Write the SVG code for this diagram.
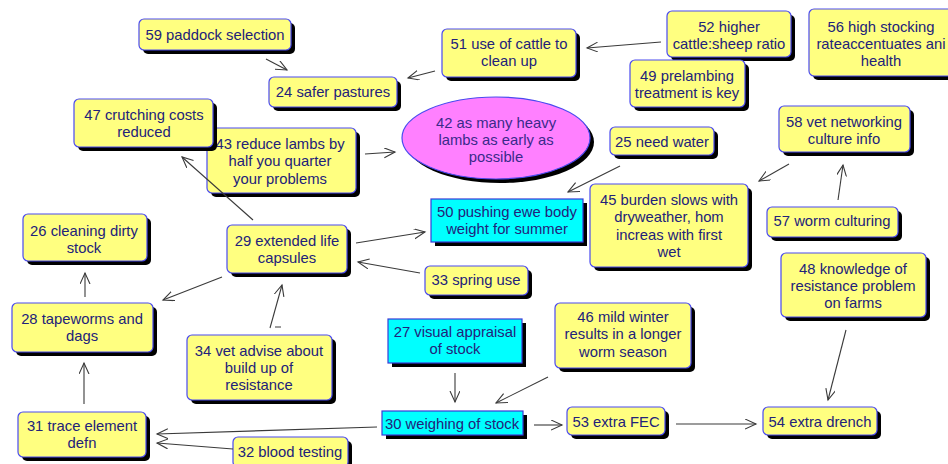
<svg xmlns="http://www.w3.org/2000/svg" width="948" height="464" viewBox="0 0 948 464">
<defs>
<style>
.sh{fill:#000}
.y{fill:#ffff80;stroke:#4a4af0;stroke-width:1.2}
.c{fill:#00ffff;stroke:#3a3ad8;stroke-width:1.2}
.m{fill:#ff80ff;stroke:#4a4af0;stroke-width:1.2}
text{font-family:"Liberation Sans",Arial,sans-serif;font-size:14.8px;fill:#22227a;text-anchor:middle}
.cn line{stroke:#3a3a3a;stroke-width:1.1;marker-end:url(#ah)}
</style>
<marker id="ah" markerUnits="userSpaceOnUse" markerWidth="14" markerHeight="12" refX="11" refY="5" orient="auto" viewBox="0 0 14 12">
<path d="M0,0 L11,5 L0,10" fill="none" stroke="#3a3a3a" stroke-width="1.1"/>
</marker>
</defs>
<rect width="948" height="464" fill="#fff"/>

<g id="n59"><rect class="sh" x="143" y="23" width="152" height="31" rx="5"/><rect class="y" x="139" y="19" width="152" height="31" rx="5"/><text x="215" y="40">59 paddock selection</text></g>
<g id="n24"><rect class="sh" x="273" y="81" width="128" height="30" rx="5"/><rect class="y" x="269" y="77" width="128" height="30" rx="5"/><text x="333" y="97">24 safer pastures</text></g>
<g id="n51"><rect class="sh" x="446" y="33" width="134" height="48" rx="5"/><rect class="y" x="442" y="29" width="134" height="48" rx="5"/><text x="509" y="49">51 use of cattle to</text><text x="509" y="66">clean up</text></g>
<g id="n52"><rect class="sh" x="671" y="15" width="124" height="46" rx="5"/><rect class="y" x="667" y="11" width="124" height="46" rx="5"/><text x="729" y="32">52 higher</text><text x="729" y="49">cattle:sheep ratio</text></g>
<g id="n49"><rect class="sh" x="634" y="64" width="115" height="47" rx="5"/><rect class="y" x="630" y="60" width="115" height="47" rx="5"/><text x="687" y="81">49 prelambing</text><text x="687" y="98">treatment is key</text></g>
<g id="n56"><rect class="sh" x="813" y="13" width="150" height="67" rx="5"/><rect class="y" x="809" y="9" width="150" height="67" rx="5"/><text x="881" y="32">56 high stocking</text><text x="881" y="49">rateaccentuates ani</text><text x="881" y="66">health</text></g>
<g id="n58"><rect class="sh" x="783" y="110" width="131" height="46" rx="5"/><rect class="y" x="779" y="106" width="131" height="46" rx="5"/><text x="844" y="127">58 vet networking</text><text x="844" y="144">culture info</text></g>
<g id="n25"><rect class="sh" x="614" y="131" width="104" height="28" rx="5"/><rect class="y" x="610" y="127" width="104" height="28" rx="5"/><text x="662" y="147">25 need water</text></g>
<g id="n42"><ellipse class="sh" cx="500" cy="142" rx="94" ry="41"/><ellipse class="m" cx="496" cy="138" rx="94" ry="41"/><text x="496" y="128" style="fill:#3a2a8a">42 as many heavy</text><text x="496" y="145" style="fill:#3a2a8a">lambs as early as</text><text x="496" y="162" style="fill:#3a2a8a">possible</text></g>
<g id="n43"><rect class="sh" x="211" y="132" width="149" height="65" rx="5"/><rect class="y" x="207" y="128" width="149" height="65" rx="5"/><text x="280" y="149">43 reduce lambs by</text><text x="280" y="166">half you quarter</text><text x="280" y="184">your problems</text></g>
<g id="n47"><rect class="sh" x="78" y="103" width="139" height="48" rx="5"/><rect class="y" x="74" y="99" width="139" height="48" rx="5"/><text x="144" y="120">47 crutching costs</text><text x="144" y="137">reduced</text></g>
<g id="n50"><rect class="sh" x="435" y="203" width="152" height="43"/><rect class="c" x="431" y="199" width="152" height="43"/><text x="507" y="217">50 pushing ewe body</text><text x="507" y="234">weight for summer</text></g>
<g id="n45"><rect class="sh" x="594" y="188" width="158" height="83" rx="5"/><rect class="y" x="590" y="184" width="158" height="83" rx="5"/><text x="669" y="205">45 burden slows with</text><text x="669" y="222">dryweather, hom</text><text x="669" y="240">increas with first</text><text x="669" y="257">wet</text></g>
<g id="n57"><rect class="sh" x="771" y="211" width="131" height="30" rx="5"/><rect class="y" x="767" y="207" width="131" height="30" rx="5"/><text x="832" y="226">57 worm culturing</text></g>
<g id="n48"><rect class="sh" x="785" y="257" width="145" height="64" rx="5"/><rect class="y" x="781" y="253" width="145" height="64" rx="5"/><text x="853" y="274">48 knowledge of</text><text x="853" y="291">resistance problem</text><text x="853" y="308">on farms</text></g>
<g id="n26"><rect class="sh" x="27" y="218" width="124" height="47" rx="5"/><rect class="y" x="23" y="214" width="124" height="47" rx="5"/><text x="84" y="236">26 cleaning dirty</text><text x="84" y="253">stock</text></g>
<g id="n29"><rect class="sh" x="231" y="229" width="120" height="48" rx="5"/><rect class="y" x="227" y="225" width="120" height="48" rx="5"/><text x="287" y="246">29 extended life</text><text x="287" y="263">capsules</text></g>
<g id="n33"><rect class="sh" x="429" y="270" width="103" height="29" rx="5"/><rect class="y" x="425" y="266" width="103" height="29" rx="5"/><text x="476" y="285">33 spring use</text></g>
<g id="n28"><rect class="sh" x="16" y="307" width="141" height="49" rx="5"/><rect class="y" x="12" y="303" width="141" height="49" rx="5"/><text x="82" y="324">28 tapeworms and</text><text x="82" y="341">dags</text></g>
<g id="n34"><rect class="sh" x="191" y="339" width="145" height="65" rx="5"/><rect class="y" x="187" y="335" width="145" height="65" rx="5"/><text x="259" y="356">34 vet advise about</text><text x="259" y="373">build up of</text><text x="259" y="390">resistance</text></g>
<g id="n27"><rect class="sh" x="392" y="323" width="134" height="44"/><rect class="c" x="388" y="319" width="134" height="44"/><text x="455" y="337">27 visual appraisal</text><text x="455" y="354">of stock</text></g>
<g id="n46"><rect class="sh" x="559" y="307" width="136" height="65" rx="5"/><rect class="y" x="555" y="303" width="136" height="65" rx="5"/><text x="623" y="322">46 mild winter</text><text x="623" y="339">results in a longer</text><text x="623" y="357">worm season</text></g>
<g id="n30"><rect class="sh" x="386" y="415" width="141" height="24"/><rect class="c" x="382" y="411" width="141" height="24"/><text x="452" y="429">30 weighing of stock</text></g>
<g id="n53"><rect class="sh" x="571" y="411" width="98" height="28" rx="5"/><rect class="y" x="567" y="407" width="98" height="28" rx="5"/><text x="616" y="427">53 extra FEC</text></g>
<g id="n54"><rect class="sh" x="767" y="411" width="114" height="28" rx="5"/><rect class="y" x="763" y="407" width="114" height="28" rx="5"/><text x="820" y="427">54 extra drench</text></g>
<g id="n31"><rect class="sh" x="22" y="416" width="128" height="45" rx="5"/><rect class="y" x="18" y="412" width="128" height="45" rx="5"/><text x="82" y="431">31 trace element</text><text x="82" y="448">defn</text></g>
<g id="n32"><rect class="sh" x="237" y="441" width="115" height="30" rx="5"/><rect class="y" x="233" y="437" width="115" height="30" rx="5"/><text x="290" y="457">32 blood testing</text></g>

<g id="connectors" class="cn">
<line x1="266" y1="59" x2="287" y2="70"/>
<line x1="435" y1="71" x2="408" y2="78"/>
<line x1="661" y1="42" x2="587" y2="48"/>
<line x1="365" y1="154" x2="395" y2="152"/>
<line x1="253" y1="220" x2="182" y2="157"/>
<line x1="356" y1="243" x2="425" y2="232"/>
<line x1="420" y1="273" x2="358" y2="262"/>
<line x1="222" y1="277" x2="163" y2="300"/>
<line x1="84" y1="404" x2="84" y2="363"/>
<line x1="85" y1="297" x2="85" y2="273"/>
<line x1="270" y1="328" x2="282" y2="285"/>
<line x1="620" y1="166" x2="568" y2="192"/>
<line x1="789" y1="164" x2="759" y2="181"/>
<line x1="838" y1="200" x2="843" y2="165"/>
<line x1="846" y1="330" x2="828" y2="400"/>
<line x1="455" y1="373" x2="455" y2="402"/>
<line x1="548" y1="377" x2="496" y2="403"/>
<line x1="534" y1="425" x2="562" y2="425"/>
<line x1="676" y1="424" x2="756" y2="424"/>
<line x1="377" y1="427" x2="157" y2="434"/>
<line x1="233" y1="449" x2="157" y2="443"/>
<path d="M275,327 H281" stroke="#3a3a3a" stroke-width="1"/>
</g>
</svg>
